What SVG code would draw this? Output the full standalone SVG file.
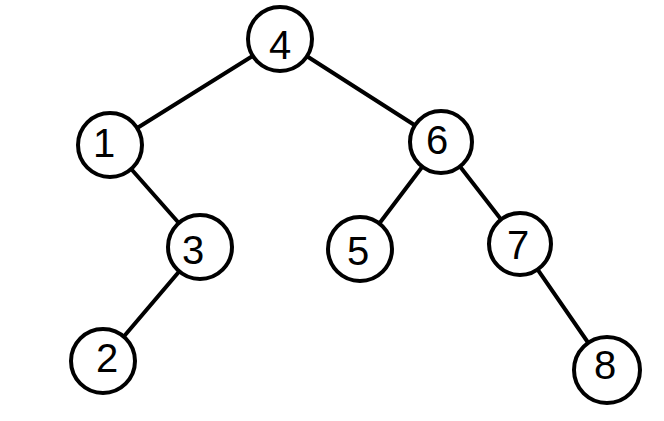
<svg xmlns="http://www.w3.org/2000/svg" width="664" height="421" viewBox="0 0 664 421">
<style>
.edge{stroke:#000;stroke-width:4;stroke-linecap:round;fill:none}
.node circle{fill:#fff;stroke:#000;stroke-width:4}
.node text{font-family:"Liberation Sans",Arial,sans-serif;font-size:40px;fill:#000;text-anchor:middle;dominant-baseline:central}
</style>
<rect width="664" height="421" fill="#fff"/>
<g id="connectors">
<line class="edge" x1="280" y1="39" x2="110" y2="145"/>
<line class="edge" x1="280" y1="39" x2="441" y2="142"/>
<line class="edge" x1="110" y1="145" x2="200" y2="247"/>
<line class="edge" x1="441" y1="142" x2="360" y2="249"/>
<line class="edge" x1="441" y1="142" x2="520" y2="244"/>
<line class="edge" x1="200" y1="247" x2="103" y2="361"/>
<line class="edge" x1="520" y1="244" x2="607" y2="370"/>
</g>
<g id="node4" class="node"><circle cx="280" cy="39" r="32"/><text x="280" y="45">4</text></g>
<g id="node1" class="node"><circle cx="110" cy="145" r="32"/><text x="104" y="143">1</text></g>
<g id="node6" class="node"><circle cx="441" cy="142" r="31"/><text x="437" y="140">6</text></g>
<g id="node3" class="node"><circle cx="200" cy="247" r="32"/><text x="193" y="250">3</text></g>
<g id="node5" class="node"><circle cx="360" cy="249" r="32"/><text x="358" y="251">5</text></g>
<g id="node7" class="node"><circle cx="520" cy="244" r="31"/><text x="518" y="245">7</text></g>
<g id="node2" class="node"><circle cx="103" cy="361" r="32"/><text x="107" y="358">2</text></g>
<g id="node8" class="node"><circle cx="607" cy="370" r="33"/><text x="605" y="365">8</text></g>
</svg>
